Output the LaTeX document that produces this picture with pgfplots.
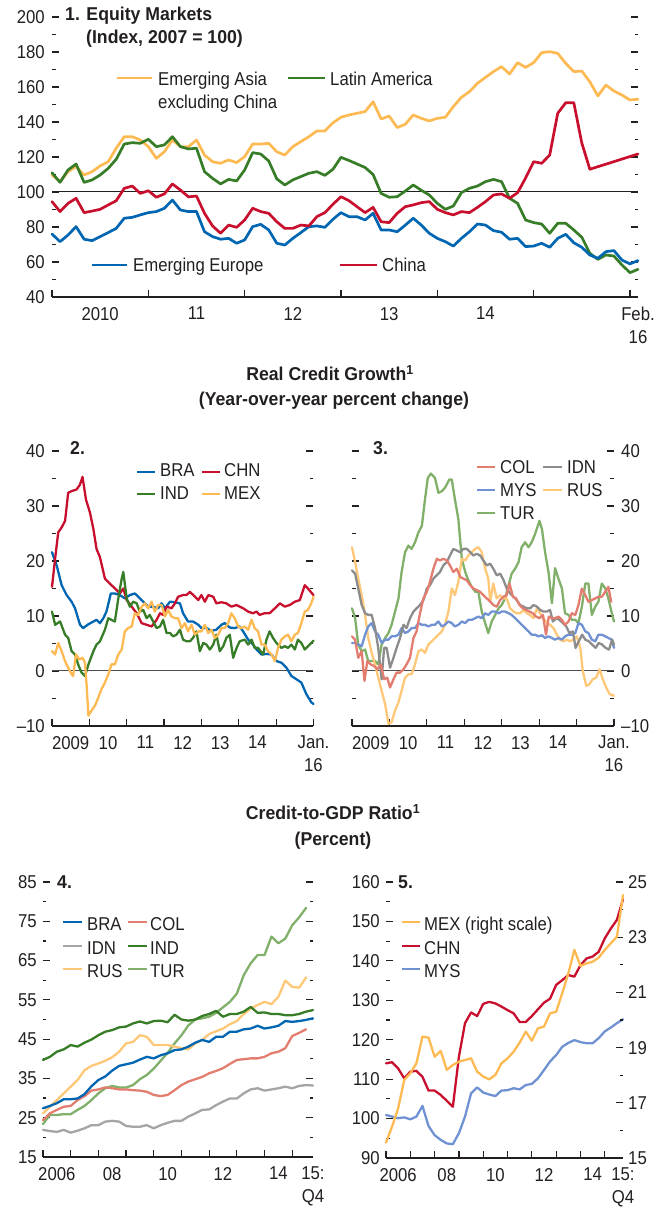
\documentclass[border=0pt]{standalone}
\usepackage{fontspec}
\setmainfont{Liberation Sans}[FakeStretch=0.9]
\newfontfamily\boldf{Liberation Sans}[FakeStretch=0.95]
\usepackage{pgfplots}
\usepackage{pgfplotstable}
\pgfplotsset{compat=1.18}
\definecolor{txt}{RGB}{35,31,32}
\definecolor{corange}{RGB}{253,186,83}
\definecolor{cgreen}{RGB}{55,125,40}
\definecolor{cred}{RGB}{200,16,46}
\definecolor{cblue}{RGB}{0,102,178}
\definecolor{csalmon}{RGB}{226,125,112}
\definecolor{cgray}{RGB}{140,140,140}
\definecolor{clgray}{RGB}{165,165,165}
\definecolor{cmys}{RGB}{112,146,210}
\definecolor{crus}{RGB}{255,200,120}
\definecolor{ctur}{RGB}{128,176,105}

\pgfplotsset{
  imf/.style={
    scale only axis, anchor=south west, clip=false,
    axis x line*=bottom, axis y line*=box, separate axis lines,
    x axis line style={-, line width=1.3pt, draw=txt},
    y axis line style={draw=none},
    tick style={line width=1.2pt, draw=txt},
    tick align=inside,
    major tick length=7pt, minor tick length=3.5pt,
    xticklabels={},
    extra x tick style={major tick length=0pt},
    xticklabel style={align=center, inner sep=0pt, yshift=-10pt, text=txt},
    yticklabel style={inner sep=0pt, text=txt},
    every axis plot/.append style={no marks, line join=round, line cap=round, line width=2.3pt},
  }
}

\pgfplotstableread{
q BRA COL IDN IND RUS TUR
0 27.4 24.4 21.9 39.7 26.1 23.4
1 28.0 26.1 21.6 40.5 27.8 25.7
2 28.7 27.0 21.4 41.8 29.5 25.7
3 29.7 27.8 21.9 42.4 31.2 25.9
4 29.7 28.0 21.2 43.5 32.9 25.9
5 29.9 29.5 21.7 43.1 34.6 27.0
6 31.0 30.5 22.3 44.1 37.1 28.0
7 33.0 31.9 23.1 44.9 38.2 29.5
8 34.6 32.2 23.1 46.0 38.8 31.2
9 35.5 32.7 24.0 46.9 39.5 32.5
10 37.0 32.5 24.2 47.3 40.4 33.1
11 38.2 32.2 24.0 48.0 41.8 32.7
12 38.6 32.2 22.9 48.2 43.9 32.7
13 39.0 32.0 22.7 49.0 44.3 33.3
14 39.8 31.9 22.7 49.5 46.0 34.8
15 40.5 31.6 23.1 49.0 45.6 35.9
16 40.1 30.8 22.3 49.6 43.5 37.5
17 40.9 30.5 23.1 49.7 43.5 39.5
18 41.4 30.8 23.7 49.3 43.5 41.5
19 42.2 32.0 24.2 51.2 43.1 43.9
20 42.4 33.3 24.2 50.0 42.7 46.0
21 43.1 34.2 25.3 49.7 42.4 48.5
22 44.1 34.8 26.1 50.0 43.9 50.0
23 44.8 35.4 27.0 50.9 44.8 50.3
24 44.3 36.3 27.1 51.4 46.3 50.7
25 45.6 36.9 28.2 52.2 47.0 51.7
26 45.6 37.6 29.1 50.7 47.7 53.1
27 46.9 38.7 29.9 51.4 48.8 54.5
28 46.9 39.7 29.9 51.4 49.6 56.6
29 47.5 39.9 31.2 52.0 51.4 61.3
30 47.7 40.1 32.2 53.2 52.8 64.3
31 48.4 40.1 32.5 51.7 53.7 66.4
32 47.7 40.5 31.9 51.8 54.5 66.4
33 48.0 41.4 32.2 51.4 53.9 71.1
34 48.4 41.8 32.5 51.4 55.8 69.4
35 49.6 42.7 32.9 51.1 59.9 70.6
36 49.4 45.8 32.5 51.1 58.3 74.0
37 49.6 46.6 33.1 51.4 58.1 76.0
38 49.9 47.5 33.3 52.0 60.7 78.4
39 50.3 nan 33.2 52.4 nan nan
}\tabfour

\pgfplotstableread{
q CHN MYS MEX
0 114.0 100.9 15.56
1 114.3 100.5 16.14
2 112.7 100.1 16.80
3 110.2 100.3 17.83
4 111.9 99.8 18.07
5 112.1 100.5 18.43
6 110.6 103.2 19.40
7 107.1 98.1 19.36
8 107.1 95.8 18.67
9 106.0 94.6 18.88
10 104.5 93.7 18.19
11 103.0 93.5 18.37
12 115.7 96.3 18.49
13 124.2 100.5 18.55
14 126.9 106.4 18.61
15 126.0 107.9 18.13
16 129.1 106.6 17.95
17 129.6 106.1 17.85
18 129.2 105.7 18.01
19 128.4 107.1 18.43
20 127.5 107.2 18.61
21 126.7 107.7 18.85
22 124.5 107.4 19.18
23 124.5 108.5 19.58
24 126.0 108.8 19.25
25 127.7 110.2 19.70
26 129.4 112.3 19.76
27 130.4 114.5 20.24
28 133.9 116.1 20.30
29 135.1 118.2 20.97
30 136.4 119.2 21.69
31 136.0 119.9 22.54
32 138.9 119.4 21.96
33 140.6 119.1 22.05
34 141.1 119.1 22.11
35 142.3 120.4 22.26
36 145.7 122.1 22.54
37 148.2 123.1 22.78
38 150.4 124.2 23.02
39 155.6 125.2 24.53
}\tabfive

\begin{document}
\fontsize{18.6}{23}\selectfont\color{txt}
\begin{tikzpicture}[x=1pt,y=1pt,font=\fontsize{18.6}{23}\selectfont,
  lbl/.style={anchor=base west, inner sep=0pt},
  ttl/.style={inner sep=0pt, font=\fontsize{18.6}{23}\boldf\bfseries}]
\path[use as bounding box] (0,0) rectangle (668,1207);

% ---------------- Panel 1 ----------------
\begin{axis}[imf, at={(52pt,910pt)}, width=586pt, height=280pt,
  xmin=0, xmax=73, ymin=40, ymax=200,
  xtick={0,12,...,72},
  extra x ticks={6,18,30,42,54,73},
  extra x tick labels={2010,11,12,13,14,{Feb.\\16}},
  ytick={40,60,...,200}, minor ytick={50,70,...,190},
  yticklabels={40,60,80,100,120,140,160,180,200},
  yticklabel style={xshift=-7pt},
  every axis plot/.append style={line width=2.7pt},
]
\addplot[txt, line width=1pt, line cap=butt] coordinates {(0,100) (73,100)};
\addplot[corange] coordinates {
(0,109.7)(1,105.9)(2,111.6)(3,114.5)(4,109.7)(5,111.6)(6,114.9)(7,117.3)(8,125.0)(9,131.6)
(10,131.6)(11,129.7)(12,125.9)(13,119.2)(14,123.0)(15,129.7)(16,125.9)(17,125.9)(18,129.7)(19,121.1)
(20,117.3)(21,116.4)(22,118.3)(23,116.8)(24,120.2)(25,127.4)(26,127.4)(27,127.8)(28,123.0)(29,121.1)
(30,125.9)(31,128.8)(32,131.6)(33,134.9)(34,134.9)(35,139.5)(36,142.7)(37,144.0)(38,145.0)(39,145.9)
(40,151.6)(41,141.7)(42,143.4)(43,136.8)(44,138.7)(45,144.0)(46,142.1)(47,140.6)(48,142.1)(49,142.7)
(50,148.8)(51,154.1)(52,157.3)(53,162.1)(54,165.5)(55,168.8)(56,171.6)(57,167.4)(58,173.9)(59,171.2)
(60,173.9)(61,179.6)(62,180.2)(63,179.2)(64,173.5)(65,168.8)(66,169.1)(67,163.0)(68,154.9)(69,161.1)
(70,157.7)(71,155.4)(72,152.6)(73,153.0)};
\addplot[cgreen] coordinates {
(0,111.0)(1,105.5)(2,112.6)(3,116.0)(4,105.5)(5,106.9)(6,109.7)(7,113.5)(8,118.7)(9,127.4)
(10,128.2)(11,127.8)(12,130.1)(13,125.9)(14,126.9)(15,131.6)(16,125.9)(17,124.6)(18,125.0)(19,111.6)
(20,107.8)(21,104.6)(22,107.2)(23,106.3)(24,112.6)(25,122.5)(26,121.7)(27,117.7)(28,107.5)(29,104.0)
(30,106.9)(31,108.8)(32,110.7)(33,111.6)(34,109.5)(35,113.0)(36,119.8)(37,118.0)(38,116.0)(39,114.0)
(40,110.0)(41,99.2)(42,97.0)(43,97.3)(44,100.5)(45,104.0)(46,101.0)(47,98.3)(48,93.5)(49,90.1)
(50,92.0)(51,99.6)(52,102.1)(53,103.4)(54,105.9)(55,107.2)(56,105.9)(57,96.4)(58,93.5)(59,84.0)
(60,82.5)(61,81.7)(62,76.4)(63,82.1)(64,82.1)(65,78.3)(66,74.1)(67,65.0)(68,61.5)(69,64.0)
(70,63.4)(71,58.3)(72,53.9)(73,55.8)};
\addplot[cblue] coordinates {
(0,76.0)(1,71.6)(2,75.4)(3,80.2)(4,73.0)(5,72.2)(6,74.5)(7,76.8)(8,79.2)(9,85.0)
(10,85.5)(11,86.9)(12,88.2)(13,88.8)(14,90.7)(15,95.4)(16,89.7)(17,88.8)(18,88.8)(19,77.3)
(20,74.5)(21,73.0)(22,73.5)(23,70.7)(24,72.6)(25,80.2)(26,81.5)(27,78.3)(28,70.7)(29,69.7)
(30,73.5)(31,76.8)(32,80.2)(33,80.6)(34,79.8)(35,84.4)(36,88.2)(37,85.9)(38,85.9)(39,84.0)
(40,87.8)(41,78.3)(42,78.3)(43,77.3)(44,81.0)(45,85.0)(46,81.1)(47,76.4)(48,73.5)(49,71.6)
(50,69.1)(51,73.5)(52,77.3)(53,81.7)(54,81.1)(55,77.9)(56,77.0)(57,73.0)(58,73.5)(59,68.8)
(60,69.1)(61,70.7)(62,68.4)(63,73.5)(64,75.8)(65,71.0)(66,68.4)(67,64.0)(68,62.1)(69,65.9)
(70,66.5)(71,61.1)(72,58.9)(73,60.8)};
\addplot[cred] coordinates {
(0,94.5)(1,88.8)(2,93.5)(3,96.4)(4,88.2)(5,89.1)(6,90.1)(7,92.6)(8,95.0)(9,102.1)
(10,103.4)(11,99.2)(12,100.7)(13,97.0)(14,98.9)(15,104.6)(16,101.1)(17,97.2)(18,97.7)(19,87.8)
(20,80.6)(21,76.4)(22,81.1)(23,79.8)(24,84.0)(25,90.7)(26,88.8)(27,87.8)(28,83.0)(29,79.2)
(30,79.2)(31,81.1)(32,80.6)(33,85.9)(34,88.2)(35,93.0)(36,97.3)(37,95.0)(38,91.6)(39,88.2)
(40,91.2)(41,83.0)(42,82.5)(43,87.8)(44,91.6)(45,92.6)(46,93.9)(47,94.5)(48,90.1)(49,88.2)
(50,86.9)(51,88.8)(52,88.2)(53,91.2)(54,94.5)(55,98.3)(56,98.9)(57,96.4)(58,99.6)(59,108.0)
(60,117.3)(61,116.4)(62,121.1)(63,145.0)(64,151.0)(65,151.0)(66,128.0)(67,113.0)(73,121.7)};
\end{axis}
\node[ttl, anchor=base west] at (65,1186) {1. Equity Markets};
\node[ttl, anchor=base west] at (86,1163) {(Index, 2007 = 100)};
\draw[corange, line width=2.7pt] (117,1129) -- (152,1129);
\node[lbl] at (158,1121) {Emerging Asia};
\node[lbl] at (158,1098) {excluding China};
\draw[cgreen, line width=2.7pt] (288,1129) -- (325,1129);
\node[lbl] at (330,1121) {Latin America};
\draw[cblue, line width=2.7pt] (92,942) -- (127,942);
\node[lbl] at (133,935) {Emerging Europe};
\draw[cred, line width=2.7pt] (340,942) -- (377,942);
\node[lbl] at (382,935) {China};

% ---------------- Section title ----------------
\node[ttl, anchor=base] at (330,826) {Real Credit Growth\textsuperscript{1}};
\node[ttl, anchor=base] at (334,801) {(Year-over-year percent change)};

% ---------------- Panel 2 ----------------
\begin{axis}[imf, at={(52pt,481pt)}, width=261.5pt, height=275pt,
  xmin=0, xmax=84, ymin=-10, ymax=40,
  xtick={0,12,...,84},
  extra x ticks={6,18,30,42,54,66,84},
  extra x tick labels={2009,10,11,12,13,14,{Jan.\\16}},
  ytick={-10,0,...,40}, minor ytick={-5,5,...,35},
  yticklabels={\textendash10,0,10,20,30,40},
  yticklabel style={xshift=-7pt},
]
\addplot[txt!80, line width=1pt, line cap=butt] coordinates {(0,0) (84,0)};
\addplot[cblue] coordinates {(0,21.6)(1.5,19.2)(3.1,15.6)(4.7,13.8)(6.3,12.6)(7.4,11.4)(9,8.4)(10,7.8)(11.7,8.5)(13.3,9.0)(14.3,9.3)(15.4,8.7)(16.5,9.6)(17.5,10.8)(18.9,14.1)(20.2,14.1)(21.8,13.8)(23.4,13.2)(25,13.8)(26.6,14.1)(27.7,13.5)(29.3,12.6)(30.9,11.7)(32.5,11.7)(34.1,11.4)(35.2,12.3)(36.3,11.4)(37.9,12.6)(39.5,12.5)(41.1,12.3)(42.1,10.5)(43.7,9.0)(45.3,9.0)(47,8.4)(48,7.8)(49.6,7.8)(51.2,7.3)(52.8,7.5)(54.4,8.4)(55.5,8.7)(57.1,7.9)(58.7,7.8)(60.3,8.1)(61.4,7.2)(63,5.7)(64.6,4.8)(65.7,3.9)(67.3,3.0)(68.9,3.1)(70.5,3.0)(72.1,1.8)(73.7,1.5)(75.3,0.6)(76.9,-0.9)(78.5,-1.5)(80.1,-2.1)(81.7,-4.2)(83.3,-5.7)(84,-6.0)};
\addplot[cred] coordinates {(0,15.3)(1,20.4)(2,25.2)(3.1,26.1)(4.2,27.3)(5.2,32.4)(6.3,32.7)(7.9,33.0)(9,33.9)(9.8,35.3)(10.9,31.2)(12.2,28.8)(13.3,25.8)(14.3,22.2)(15.4,20.7)(17,16.8)(18.6,15.9)(20.2,15.0)(21.8,14.1)(22.9,15.0)(24,12.9)(25.6,11.7)(27.2,10.5)(28.8,8.7)(30.4,8.4)(32,8.1)(33.6,9.3)(34.7,10.5)(35.7,10.2)(36.8,11.7)(38.4,11.4)(39.5,12.3)(40.5,13.5)(42.1,13.8)(43.2,13.8)(44.3,14.4)(45.9,13.5)(47,12.9)(48,13.8)(49.1,12.6)(50.2,13.8)(51.8,13.5)(52.8,12.3)(54.4,12.5)(56,12.3)(57.6,11.7)(59.3,12.0)(60.3,11.7)(61.4,11.4)(63,10.8)(64.6,10.5)(65.7,10.8)(66.7,10.2)(68.3,10.5)(69.9,10.5)(71.6,11.4)(73.2,12.3)(74.8,11.7)(76.4,12.0)(78,12.6)(79.6,12.9)(81.2,15.6)(82.2,15.0)(84,13.8)};
\addplot[cgreen] coordinates {(0,10.8)(1,8.4)(2.6,9.0)(4.2,6.6)(5.2,6.0)(6.3,3.6)(7.4,3.0)(8.4,1.2)(9.5,-0.3)(10.6,-0.9)(11.7,1.2)(13.3,3.6)(14.3,4.8)(15.4,5.4)(17,7.5)(18.1,9.6)(19.1,9.3)(20.2,9.0)(21.3,13.2)(22.4,16.8)(22.9,18.0)(24,13.2)(25,11.7)(26.1,12.6)(27.2,12.3)(28.2,10.8)(29.3,11.1)(30.4,9.6)(31.4,10.2)(32.5,9.0)(33.6,7.8)(34.7,8.1)(35.7,9.3)(36.8,6.9)(37.9,6.9)(38.9,6.3)(40,6.6)(41.1,7.5)(42.1,5.7)(43.2,5.4)(44.3,5.4)(45.3,6.0)(46.4,7.2)(47.5,3.6)(48.6,5.1)(49.6,4.8)(50.7,3.9)(51.8,4.8)(52.8,6.6)(53.9,3.6)(55,4.5)(56,6.0)(57.1,6.6)(58.2,2.4)(59.3,4.2)(60.3,5.4)(61.9,5.7)(63,4.8)(64.1,5.7)(65.1,4.2)(66.2,4.2)(67.8,3.0)(68.9,5.7)(69.9,7.2)(71,6.0)(72.1,5.1)(73.7,4.2)(74.8,4.5)(75.8,4.2)(76.9,4.8)(78,3.9)(79,5.7)(80.1,5.1)(81.2,3.9)(82.2,4.5)(84,5.5)};
\addplot[corange] coordinates {(0,3.6)(1,3.0)(2,5.1)(3.1,3.6)(4.2,1.8)(5.2,0.6)(6.3,-0.6)(6.8,-0.9)(7.7,3.0)(8.8,2.1)(9.8,2.4)(10.6,1.5)(11.1,-2.4)(11.7,-8.1)(12.7,-7.2)(13.8,-6.3)(14.9,-4.8)(15.9,-3.3)(17,-2.1)(18.1,-0.6)(19.1,1.2)(20.2,1.2)(21.3,3.0)(22.4,3.9)(23.4,7.2)(24.5,7.8)(25.6,8.1)(26.6,10.5)(27.7,10.2)(28.8,11.7)(29.8,12.3)(30.9,11.4)(32,12.6)(33,10.8)(34.1,12.0)(35.2,12.0)(36.3,9.9)(37.3,11.1)(38.4,9.9)(39.5,9.6)(40.5,9.6)(41.6,7.8)(42.7,8.7)(43.7,7.2)(44.8,8.4)(45.9,6.6)(47,7.2)(48,7.2)(49.1,8.4)(50.2,6.9)(51.2,7.5)(52.3,6.0)(53.4,6.6)(54.4,7.8)(55.5,7.8)(56.6,8.7)(57.6,10.5)(58.7,9.6)(59.8,8.1)(60.9,7.8)(61.9,8.1)(63,7.5)(64.1,9.3)(65.1,7.8)(66.2,7.2)(67.3,4.8)(68.3,4.8)(69.4,3.6)(70.5,3.0)(71.6,1.8)(72.6,4.2)(73.7,5.7)(74.8,6.3)(75.8,6.6)(76.9,5.4)(78,6.6)(79,6.9)(80.1,8.7)(81.2,10.8)(82.2,11.1)(83.3,12.3)(84,13.5)};
\end{axis}
\node[ttl, anchor=base west] at (70,752) {2.};
\draw[cblue, line width=2.3pt] (137,735) -- (155,735);
\node[lbl] at (160,730) {BRA};
\draw[cred, line width=2.3pt] (202,735) -- (220,735);
\node[lbl] at (224,730) {CHN};
\draw[cgreen, line width=2.3pt] (137,713) -- (155,713);
\node[lbl] at (160,707) {IND};
\draw[corange, line width=2.3pt] (202,713) -- (220,713);
\node[lbl] at (224,707) {MEX};

% ---------------- Panel 3 ----------------
\begin{axis}[imf, at={(352pt,481pt)}, width=262pt, height=275pt,
  xmin=0, xmax=84, ymin=-10, ymax=40,
  xtick={0,12,...,84},
  extra x ticks={6,18,30,42,54,66,84},
  extra x tick labels={2009,10,11,12,13,14,{Jan.\\16}},
  ytick={-10,0,...,40}, minor ytick={-5,5,...,35},
  yticklabels={\textendash10,0,10,20,30,40},
  yticklabel pos=right,
  yticklabel style={xshift=7pt},
]
\addplot[txt!80, line width=1pt, line cap=butt] coordinates {(0,0) (84,0)};
\addplot[ctur] coordinates {(0,11.4)(1,9.6)(2,4.8)(3.1,3.6)(4.2,3.9)(5.2,1.8)(6.3,1.8)(7.4,1.8)(8.4,1.2)(9.5,4.8)(10.6,6.0)(11.7,6.9)(12.7,8.4)(13.8,10.8)(14.9,13.2)(15.9,18.0)(17,21.6)(18.1,22.8)(19.1,22.2)(20.2,23.4)(21.3,25.2)(22.4,26.4)(23.4,31.2)(24.3,35.1)(25.3,35.9)(26.6,35.1)(27.7,32.4)(28.8,32.7)(29.8,33.3)(31.2,34.8)(32,34.8)(33,31.2)(34.1,27.6)(35.2,20.4)(36.3,18.0)(37.3,16.5)(38.4,15.3)(39.5,14.4)(40.5,14.4)(41.6,10.8)(42.7,8.7)(43.7,6.9)(44.8,9.0)(45.9,10.2)(47,11.4)(48,12.0)(49.1,13.2)(50.2,15.6)(51.2,17.7)(52.3,18.6)(53.4,19.8)(54.4,22.5)(55.5,23.4)(56.6,22.5)(57.6,23.4)(58.7,24.9)(60.1,27.3)(60.9,25.8)(61.9,21.6)(63,18.0)(64.1,12.3)(65.1,18.7)(66.2,16.8)(67.3,15.0)(68.3,10.5)(69.4,10.2)(70.5,9.3)(71.6,9.3)(72.6,8.7)(73.7,11.7)(74.8,15.9)(75.8,15.9)(76.9,10.2)(78,11.7)(79,12.6)(80.1,15.9)(81.2,15.0)(82.2,13.2)(83.3,10.5)(84,9.0)};
\addplot[crus] coordinates {(0,22.5)(1,19.8)(2,16.8)(3.1,13.8)(4.2,10.2)(5.2,6.0)(6.3,3.3)(7.4,1.2)(8.4,-1.2)(9.5,-3.6)(10.6,-6.0)(11.7,-9.6)(12.7,-9.3)(13.8,-7.2)(14.9,-5.7)(15.9,-3.6)(17,-1.2)(18.1,-0.6)(19.1,-0.6)(20.2,1.2)(21.3,3.6)(22.4,3.9)(23.4,3.3)(24.5,4.8)(25.6,5.4)(26.6,6.0)(27.7,6.6)(28.8,7.2)(29.8,8.4)(30.9,10.8)(32,15.0)(33,13.8)(34.1,16.2)(35.2,20.4)(36.3,20.1)(37.3,21.0)(38.4,21.6)(39.5,22.2)(40.5,22.5)(41.6,21.6)(42.7,18.6)(43.7,16.8)(44.3,12.6)(45.3,15.9)(46.4,13.2)(47.5,13.8)(48.6,13.2)(49.6,13.2)(50.7,11.4)(51.8,10.8)(52.8,10.5)(53.9,10.5)(55,11.1)(56,10.5)(57.1,10.2)(58.2,9.6)(59.3,11.4)(60.3,10.5)(61.4,9.6)(62.5,8.7)(63.5,8.4)(64.6,7.8)(65.7,6.6)(66.7,5.7)(67.8,5.4)(68.9,5.7)(69.9,5.4)(71,5.7)(72.1,6.3)(73.2,4.2)(74,0)(75.1,-2.7)(76.1,-2.4)(77.2,-1.5)(78.3,-1.2)(79.4,0.3)(80.4,-1.5)(81.5,-3.0)(82.6,-4.2)(84,-4.5)};
\addplot[cmys] coordinates {(0,5.1)(1,5.1)(2,4.8)(3.1,4.5)(4.2,6.6)(5.2,8.1)(6.3,8.7)(7.4,7.2)(8.4,6.6)(9.5,5.1)(10.6,5.7)(11.7,5.7)(12.7,6.3)(13.8,6.3)(14.9,6.6)(15.9,7.8)(17,6.9)(18.1,7.2)(19.1,7.8)(20.2,7.8)(21.3,8.7)(22.4,8.4)(23.4,8.4)(24.5,8.1)(25.6,8.4)(26.6,8.4)(27.7,9.0)(28.8,8.1)(29.8,8.4)(30.9,9.0)(32,8.7)(33,8.1)(34.1,8.4)(35.2,9.0)(36.3,8.7)(37.3,9.3)(38.4,9.3)(39.5,9.6)(40.5,9.9)(41.6,9.6)(42.7,10.5)(43.7,10.2)(44.8,10.8)(45.9,10.8)(47,10.5)(48,10.8)(49.1,10.8)(50.2,10.5)(51.2,10.2)(52.3,9.6)(53.4,9.0)(54.4,8.4)(55.5,7.8)(56.6,7.2)(57.6,6.6)(58.7,6.6)(59.8,6.3)(60.9,6.5)(61.9,6.0)(63,6.3)(64.1,6.0)(65.1,5.7)(66.2,6.0)(67.3,5.7)(68.3,6.3)(69.4,6.6)(70.5,6.6)(71.6,6.9)(72.6,8.7)(73.7,8.4)(74.8,7.2)(75.8,6.9)(76.9,5.7)(78,5.4)(79,6.6)(80.1,6.6)(81.2,6.3)(82.2,6.0)(83.3,5.7)(84,4.2)};
\addplot[cgray] coordinates {(0,18.3)(1,17.7)(2,15.0)(3.1,12.0)(4.2,10.5)(5.2,10.2)(6.3,10.2)(7.4,7.8)(8.4,4.2)(9.5,-1.5)(10.3,4.2)(11.1,4.2)(12.2,0.6)(13.3,2.4)(14.3,4.2)(15.4,6.0)(16.5,8.4)(17.5,7.8)(18.6,9.6)(19.7,10.8)(20.7,11.4)(21.8,12.0)(22.9,12.9)(24,15.0)(25,15.6)(26.1,16.8)(27.2,17.4)(28.2,18.0)(29.3,19.2)(30.4,19.8)(31.4,21.0)(32.5,22.2)(33.6,21.9)(34.7,21.6)(35.7,22.2)(36.8,22.2)(37.9,21.6)(38.9,21.0)(40,21.3)(41.1,21.0)(42.1,20.1)(43.2,19.2)(44.3,19.5)(45.3,18.6)(46.4,17.4)(47.5,17.7)(48.6,16.5)(49.6,15.0)(50.7,14.1)(51.8,13.5)(52.8,12.9)(53.9,12.0)(55,11.7)(56,11.4)(57.1,11.4)(58.2,12.0)(59.3,11.7)(60.3,11.1)(61.4,10.8)(62.5,10.8)(63.5,11.1)(64.4,9.0)(65.5,9.6)(66.5,9.3)(67.6,8.7)(68.7,8.1)(69.7,6.9)(70.8,7.2)(71.7,4.2)(72.7,5.4)(73.8,6.6)(74.8,5.7)(75.9,5.4)(77,4.8)(78.1,4.2)(79.1,5.1)(80.2,4.8)(81.3,4.2)(82.4,3.9)(83.4,5.7)(84,4.8)};
\addplot[csalmon] coordinates {(0,6.3)(1,5.7)(2,2.4)(3.1,3.6)(4,-1.8)(4.9,1.8)(6,1.2)(7.1,0.9)(8.1,0.3)(9.2,1.2)(10.3,-1.5)(11.3,-1.2)(12.2,-3.0)(13.3,-1.5)(14.3,-0.3)(15.4,-0.3)(16.5,0.3)(17.5,1.2)(18.6,2.4)(19.7,6.0)(20.7,7.2)(21.8,10.5)(22.9,13.2)(24,14.4)(25,16.2)(26.1,18.6)(27.2,20.4)(28.2,20.1)(29.3,20.4)(30.4,20.1)(31.4,19.2)(32.5,18.0)(33.6,18.6)(34.7,17.1)(35.7,16.8)(36.8,16.5)(37.9,15.6)(38.9,15.0)(40,14.7)(41.1,14.4)(42.1,13.8)(43.2,13.2)(44.3,12.6)(45.3,12.0)(46.4,11.7)(47.5,12.9)(48.6,13.5)(49.6,13.8)(50.5,15.9)(51.6,13.5)(52.6,13.2)(53.7,12.0)(54.8,11.4)(55.8,11.1)(56.9,10.8)(58,10.5)(59,9.9)(60.1,9.6)(61.2,10.2)(62.2,6.6)(63.1,9.9)(64.1,9.6)(65.1,9.6)(66.2,9.9)(67.3,9.3)(68.3,8.4)(69.4,9.0)(70.5,10.5)(71.6,10.2)(72.6,12.0)(73.7,15.0)(74.8,13.8)(75.8,12.6)(76.9,12.9)(78,13.2)(79,13.5)(80.1,13.5)(81.2,14.4)(82.2,15.3)(83.1,12.6)};
\end{axis}
\node[ttl, anchor=base west] at (373,752) {3.};
\draw[csalmon, line width=2.3pt] (477,740) -- (495,740);
\node[lbl] at (500,733) {COL};
\draw[cgray, line width=2.3pt] (543,740) -- (562,740);
\node[lbl] at (567,733) {IDN};
\draw[cmys, line width=2.3pt] (477,717) -- (495,717);
\node[lbl] at (500,710) {MYS};
\draw[crus, line width=2.3pt] (543,717) -- (562,717);
\node[lbl] at (567,710) {RUS};
\draw[ctur, line width=2.3pt] (477,694) -- (495,694);
\node[lbl] at (500,687) {TUR};

% ---------------- Section title ----------------
\node[ttl, anchor=base] at (333,387) {Credit-to-GDP Ratio\textsuperscript{1}};
\node[ttl, anchor=base] at (333,361) {(Percent)};

% ---------------- Panel 4 ----------------
\begin{axis}[imf, at={(43pt,50pt)}, width=270pt, height=275pt,
  xmin=0, xmax=39, ymin=15, ymax=85,
  xtick={0,4,...,36},
  extra x ticks={2,10,18,26,34,39},
  extra x tick labels={2006,08,10,12,14,{15:\\Q4}},
  ytick={15,25,...,85}, minor ytick={20,30,...,80},
  yticklabels={15,25,35,45,55,65,75,85},
  yticklabel style={xshift=-6pt},
]
\addplot[ctur] table[x=q, y=TUR] {\tabfour};
\addplot[crus] table[x=q, y=RUS] {\tabfour};
\addplot[clgray] table[x=q, y=IDN] {\tabfour};
\addplot[csalmon] table[x=q, y=COL] {\tabfour};
\addplot[cgreen] table[x=q, y=IND] {\tabfour};
\addplot[cblue] table[x=q, y=BRA] {\tabfour};
\end{axis}
\node[ttl, anchor=base west] at (57,318) {4.};
\draw[cblue, line width=2.3pt] (63,285) -- (82,285);
\node[lbl] at (87,276) {BRA};
\draw[csalmon, line width=2.3pt] (128,285) -- (147,285);
\node[lbl] at (150,276) {COL};
\draw[clgray, line width=2.3pt] (63,261) -- (82,261);
\node[lbl] at (87,252) {IDN};
\draw[cgreen, line width=2.3pt] (128,261) -- (147,261);
\node[lbl] at (150,252) {IND};
\draw[crus, line width=2.3pt] (63,238) -- (82,238);
\node[lbl] at (87,229) {RUS};
\draw[ctur, line width=2.3pt] (128,238) -- (147,238);
\node[lbl] at (150,229) {TUR};

% ---------------- Panel 5 ----------------
\begin{axis}[imf, at={(386pt,49pt)}, width=237pt, height=276pt,
  axis y line*=left,
  xmin=0, xmax=39, ymin=90, ymax=160,
  xtick={0,4,...,36},
  extra x ticks={2,10,18,26,34,39},
  extra x tick labels={2006,08,10,12,14,{15:\\Q4}},
  ytick={90,100,...,160}, minor ytick={95,105,...,155},
  yticklabels={90,100,110,120,130,140,150,160},
  yticklabel style={xshift=-6pt},
]
\addplot[cmys] table[x=q, y=MYS] {\tabfive};
\addplot[cred] table[x=q, y=CHN] {\tabfive};
\end{axis}
\begin{axis}[scale only axis, anchor=south west, clip=false,
  at={(386pt,49pt)}, width=237pt, height=276pt,
  hide x axis, axis y line*=right,
  y axis line style={draw=none},
  tick style={line width=1.2pt, draw=txt},
  tick align=inside, major tick length=7pt, minor tick length=3.5pt,
  xmin=0, xmax=39, ymin=15, ymax=25,
  ytick={15,17,...,25}, minor ytick={16,18,...,24},
  yticklabels={15,17,19,21,23,25},
  yticklabel style={inner sep=0pt, xshift=5pt, text=txt},
]
\addplot[corange, no marks, line join=round, line cap=round, line width=2.3pt] table[x=q, y=MEX] {\tabfive};
\end{axis}
\node[ttl, anchor=base west] at (398,318) {5.};
\draw[corange, line width=2.3pt] (402,285) -- (420,285);
\node[lbl] at (424,276) {MEX (right scale)};
\draw[cred, line width=2.3pt] (402,261) -- (420,261);
\node[lbl] at (424,252) {CHN};
\draw[cmys, line width=2.3pt] (402,238) -- (420,238);
\node[lbl] at (424,229) {MYS};
\end{tikzpicture}
\end{document}
